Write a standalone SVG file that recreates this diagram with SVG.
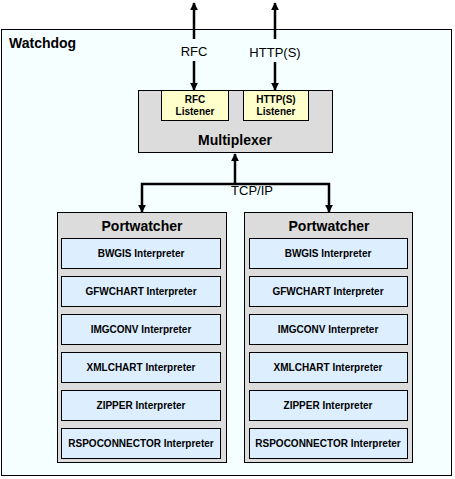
<svg xmlns="http://www.w3.org/2000/svg" width="455" height="479" viewBox="0 0 455 479">
<defs>
<marker id="ah" viewBox="0 0 10 10" refX="9" refY="5" markerWidth="3.2" markerHeight="3.2" orient="auto-start-reverse" markerUnits="strokeWidth">
<path d="M0,0 L10,5 L0,10 z" fill="#000"/>
</marker>
<style>
text{font-family:"Liberation Sans",Arial,sans-serif;fill:#000;text-anchor:middle}
.box{stroke:#000;stroke-width:1}
.grey{fill:#dcdcdc}
.interp{fill:#ddeeff}
.listen{fill:#ffffcc}
.it{font-size:10px;font-weight:bold}
.pw{font-size:14px;font-weight:bold}
.ln{font-size:10px;font-weight:bold}
.lbl{font-size:13px}
.conn{stroke:#000;stroke-width:2.5;fill:none}
</style>
</defs>
<g id="watchdog">
<rect class="box" x="1.5" y="29.5" width="450" height="446" fill="#f5ffff"/>
<text x="9" y="48" style="font-size:14px;font-weight:bold;text-anchor:start">Watchdog</text>
</g>
<g id="connectors">
<line class="conn" x1="194" y1="39" x2="194" y2="3" marker-end="url(#ah)"/>
<line class="conn" x1="194" y1="61" x2="194" y2="90" marker-end="url(#ah)"/>
<line class="conn" x1="275" y1="39" x2="275" y2="3" marker-end="url(#ah)"/>
<line class="conn" x1="275" y1="62" x2="275" y2="90" marker-end="url(#ah)"/>
<path class="conn" d="M235,184 L235,154" marker-end="url(#ah)"/>
<path class="conn" d="M235,184 L142,184 L142,212" marker-end="url(#ah)"/>
<path class="conn" d="M235,184 L329,184 L329,212" marker-end="url(#ah)"/>
<text class="lbl" x="194" y="56">RFC</text>
<text class="lbl" x="275" y="57">HTTP(S)</text>
<text class="lbl" x="252" y="195">TCP/IP</text>
</g>
<g id="multiplexer">
<rect class="box grey" x="138.5" y="90.5" width="194" height="62"/>
<text x="235" y="145" style="font-size:14px;font-weight:bold">Multiplexer</text>
</g>
<g id="rfc-listener">
<rect class="box listen" x="161.5" y="90.5" width="67" height="30"/>
<text class="ln" x="195" y="103">RFC</text>
<text class="ln" x="195" y="115">Listener</text>
</g>
<g id="http-listener">
<rect class="box listen" x="243.5" y="90.5" width="65" height="30"/>
<text class="ln" x="276" y="103">HTTP(S)</text>
<text class="ln" x="276" y="115">Listener</text>
</g>
<g id="portwatcher-left">
<rect class="box grey" x="57.5" y="212.5" width="169" height="250"/>
<text class="pw" x="142" y="231">Portwatcher</text>
<rect class="box interp" x="61.5" y="238.5" width="159" height="30"/><text class="it" x="141" y="257">BWGIS Interpreter</text>
<rect class="box interp" x="61.5" y="276.5" width="159" height="30"/><text class="it" x="141" y="295">GFWCHART Interpreter</text>
<rect class="box interp" x="61.5" y="314.5" width="159" height="30"/><text class="it" x="141" y="333">IMGCONV Interpreter</text>
<rect class="box interp" x="61.5" y="352.5" width="159" height="30"/><text class="it" x="141" y="371">XMLCHART Interpreter</text>
<rect class="box interp" x="61.5" y="390.5" width="159" height="30"/><text class="it" x="141" y="409">ZIPPER Interpreter</text>
<rect class="box interp" x="61.5" y="428.5" width="159" height="30"/><text class="it" x="141" y="447">RSPOCONNECTOR Interpreter</text>
</g>
<g id="portwatcher-right">
<rect class="box grey" x="244.5" y="212.5" width="168" height="250"/>
<text class="pw" x="329" y="231">Portwatcher</text>
<rect class="box interp" x="249.5" y="238.5" width="158" height="30"/><text class="it" x="328" y="257">BWGIS Interpreter</text>
<rect class="box interp" x="249.5" y="276.5" width="158" height="30"/><text class="it" x="328" y="295">GFWCHART Interpreter</text>
<rect class="box interp" x="249.5" y="314.5" width="158" height="30"/><text class="it" x="328" y="333">IMGCONV Interpreter</text>
<rect class="box interp" x="249.5" y="352.5" width="158" height="30"/><text class="it" x="328" y="371">XMLCHART Interpreter</text>
<rect class="box interp" x="249.5" y="390.5" width="158" height="30"/><text class="it" x="328" y="409">ZIPPER Interpreter</text>
<rect class="box interp" x="249.5" y="428.5" width="158" height="30"/><text class="it" x="328" y="447">RSPOCONNECTOR Interpreter</text>
</g>
</svg>
